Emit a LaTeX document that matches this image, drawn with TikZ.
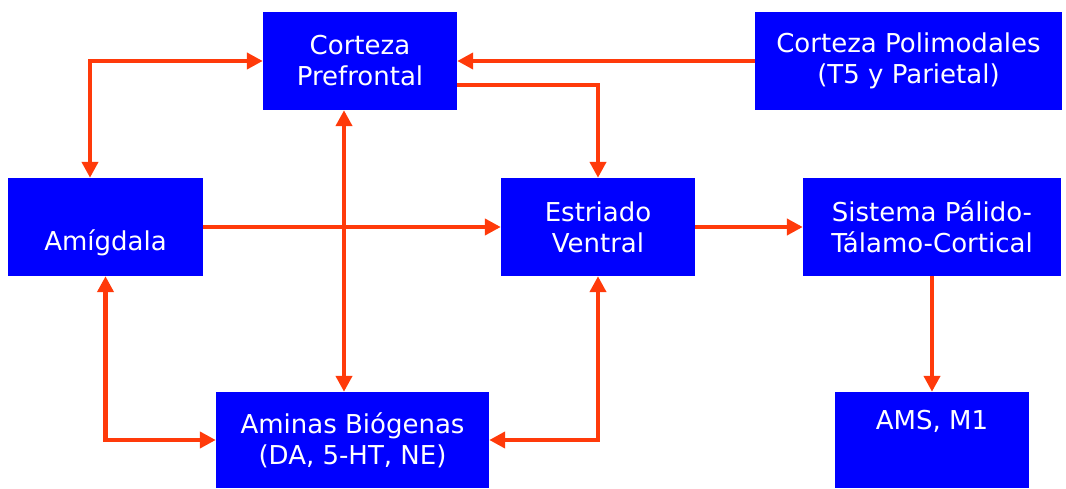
\documentclass[tikz,border=0pt]{standalone}
\usepackage{fontspec}
\setmainfont{DejaVu Sans}
\definecolor{BoxBlue}{HTML}{0000FF}
\definecolor{LinkRed}{HTML}{FF3A0A}
\usepackage{tikz}
\usetikzlibrary{arrows.meta,calc}
\begin{document}
\begin{tikzpicture}[x=1pt,y=-1pt,
  box/.style={fill=BoxBlue,text=white,inner sep=0pt,align=center,minimum height=98pt,font=\fontsize{26}{31}\selectfont},
  link/.style={LinkRed,line width=4.5pt,{Triangle[length=16pt,width=16pt]}-{Triangle[length=16pt,width=16pt]}},
  onelink/.style={LinkRed,line width=4.5pt,-{Triangle[length=16pt,width=16pt]}}]
  \useasboundingbox (0,0) rectangle (1066,489);
  \node[box,minimum width=194pt] (pref) at (360,61) {Corteza\\Prefrontal};
  \node[box,minimum width=307pt] (poli) at (908.5,61) {Corteza Polimodales\\(T5 y Parietal)};
  \node[box,minimum width=195pt] (amig) at (105.5,227) {\strut\\Amígdala};
  \node[box,minimum width=194pt] (estr) at (598,227) {Estriado\\Ventral};
  \node[box,minimum width=258pt] (sist) at (932,227) {Sistema Pálido-\\Tálamo-Cortical};
  \node[box,minimum width=273pt,minimum height=96pt] (amin) at (352.5,440) {Aminas Biógenas\\(DA, 5-HT, NE)};
  \node[box,minimum width=194pt,minimum height=96pt] (ams) at (932,440) {AMS, M1\\\strut};
  \draw[link] ([xshift=-15.5pt]amig.north) |- (pref.west);
  \draw[onelink] (poli.west) -- (pref.east);
  \draw[onelink] ([yshift=-24pt]pref.east) -| (estr.north);
  \draw[link] ([xshift=-16pt]pref.south) -- ([xshift=-16pt]pref.south |- amin.north);
  \draw[onelink] (amig.east) -- (estr.west);
  \draw[onelink] (estr.east) -- (sist.west);
  \draw[onelink] (sist.south) -- (ams.north);
  \draw[link] (amig.south) |- (amin.west);
  \draw[link] (estr.south) |- (amin.east);
\end{tikzpicture}
\end{document}
